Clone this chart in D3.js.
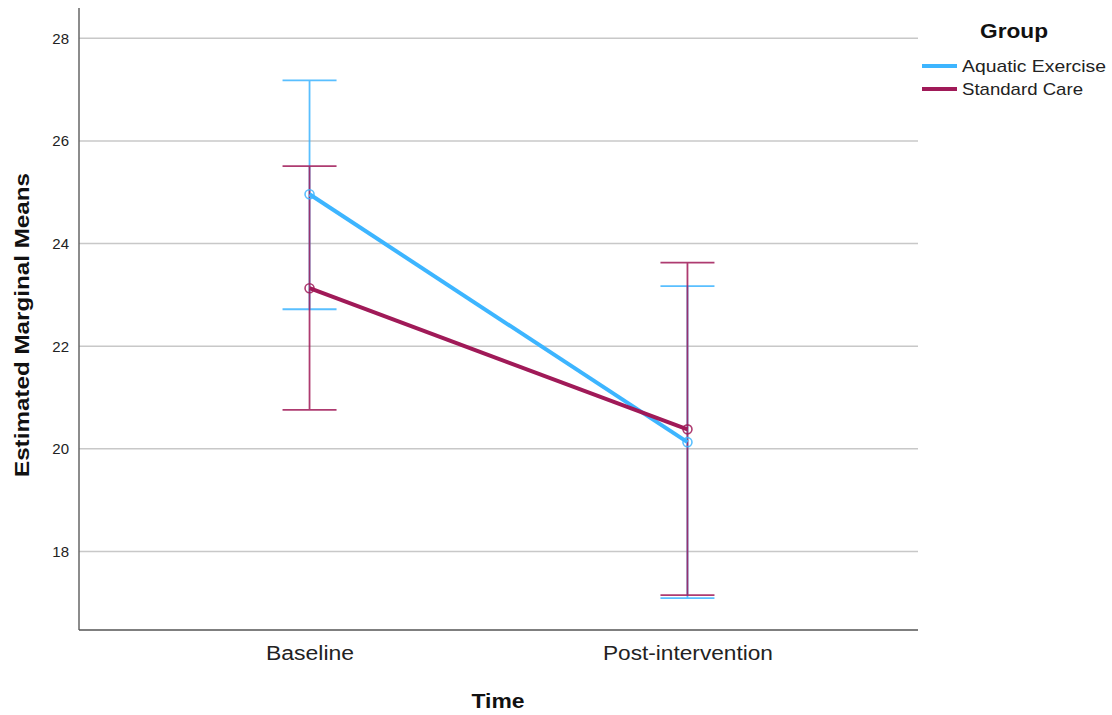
<!DOCTYPE html>
<html><head><meta charset="utf-8">
<script src="https://cdn.jsdelivr.net/npm/d3@7"></script>
<style>body{margin:0;background:#fff;} text{font-family:Arial,"Liberation Sans",sans-serif;}</style>
</head><body><svg id="c" width="1112" height="715"></svg>
<script>
const categories = ["Baseline", "Post-intervention"];
const groups = ["Aquatic Exercise", "Standard Care"];
const aquaticMean = [24.96, 20.13];
const aquaticLower = [22.72, 17.09];
const aquaticUpper = [27.18, 23.17];
const standardMean = [23.13, 20.38];
const standardLower = [20.76, 17.15];
const standardUpper = [25.51, 23.63];
const yTicks = [18, 20, 22, 24, 26, 28];
const colors = ["#3DB5FF", "#A01A58"];

const series = [
  {name: groups[0], mean: aquaticMean, lo: aquaticLower, hi: aquaticUpper, color: colors[0]},
  {name: groups[1], mean: standardMean, lo: standardLower, hi: standardUpper, color: colors[1]}
];

const svg = d3.select("#c");
const L = 79, R = 918, T = 8, B = 630;
const x = d3.scalePoint().domain(categories).range([L, R]).padding(0.61);
const y = d3.scaleLinear().domain([16.47, 28.59]).range([B, T]);

// gridlines
svg.append("g").selectAll("line").data(yTicks).join("line")
  .attr("x1", L).attr("x2", R).attr("y1", d => y(d)).attr("y2", d => y(d))
  .attr("stroke", "#c8c8c8").attr("stroke-width", 1.5);

// axes
const yAxis = svg.append("g").attr("transform", `translate(${L},0)`)
  .call(d3.axisLeft(y).tickValues(yTicks).tickSize(0).tickPadding(10));
yAxis.select(".domain").remove();
yAxis.selectAll("text").attr("font-size", 15).attr("fill", "#222");

const catLen = {"Baseline": 88, "Post-intervention": 170};
const xAxis = svg.append("g").attr("transform", `translate(0,${B})`)
  .call(d3.axisBottom(x).tickSize(0).tickPadding(16));
xAxis.select(".domain").remove();
xAxis.selectAll("text").attr("font-size", 20).attr("fill", "#222").attr("dy", "0.71em")
  .attr("textLength", d => catLen[d]).attr("lengthAdjust", "spacingAndGlyphs");

svg.append("line").attr("x1", L).attr("x2", L).attr("y1", T).attr("y2", B)
  .attr("stroke", "#666").attr("stroke-width", 1.5);
svg.append("line").attr("x1", L).attr("x2", R).attr("y1", B).attr("y2", B)
  .attr("stroke", "#555").attr("stroke-width", 1.5);

// error bars
const cap = 27;
series.forEach(s => {
  const g = svg.append("g").attr("stroke", s.color).attr("stroke-width", 1.8).attr("opacity", 0.85);
  categories.forEach((c, i) => {
    g.append("line").attr("x1", x(c)).attr("x2", x(c)).attr("y1", y(s.lo[i])).attr("y2", y(s.hi[i]));
    g.append("line").attr("x1", x(c) - cap).attr("x2", x(c) + cap).attr("y1", y(s.lo[i])).attr("y2", y(s.lo[i]));
    g.append("line").attr("x1", x(c) - cap).attr("x2", x(c) + cap).attr("y1", y(s.hi[i])).attr("y2", y(s.hi[i]));
  });
});

// lines
const line = d3.line().x((d, i) => x(categories[i])).y(d => y(d));
series.forEach(s => {
  svg.append("path").datum(s.mean).attr("d", line).attr("fill", "none")
    .attr("stroke", s.color).attr("stroke-width", 4);
});
series.forEach(s => {
  svg.append("g").selectAll("circle").data(s.mean).join("circle")
    .attr("cx", (d, i) => x(categories[i])).attr("cy", d => y(d)).attr("r", 4.5)
    .attr("fill", "none").attr("stroke", s.color).attr("stroke-width", 1.6).attr("opacity", 0.85);
});

// axis titles
svg.append("text").attr("x", 498).attr("y", 708).attr("text-anchor", "middle")
  .attr("font-size", 21).attr("font-weight", "bold").attr("fill", "#111")
  .attr("textLength", 53).attr("lengthAdjust", "spacingAndGlyphs").text("Time");
svg.append("text").attr("transform", "translate(29,325) rotate(-90)").attr("text-anchor", "middle")
  .attr("font-size", 21).attr("font-weight", "bold").attr("fill", "#111")
  .attr("textLength", 304).attr("lengthAdjust", "spacingAndGlyphs").text("Estimated Marginal Means");

// legend
svg.append("text").attr("x", 1014).attr("y", 38).attr("text-anchor", "middle")
  .attr("font-size", 21).attr("font-weight", "bold").attr("fill", "#111")
  .attr("textLength", 68).attr("lengthAdjust", "spacingAndGlyphs").text("Group");
const legLen = [144, 121];
series.forEach((s, i) => {
  const ly = 66 + i * 23;
  svg.append("line").attr("x1", 922).attr("x2", 957).attr("y1", ly).attr("y2", ly)
    .attr("stroke", s.color).attr("stroke-width", 4);
  svg.append("text").attr("x", 962).attr("y", ly + 6).attr("font-size", 17).attr("fill", "#222")
    .attr("textLength", legLen[i]).attr("lengthAdjust", "spacingAndGlyphs").text(s.name);
});
</script></body></html>
